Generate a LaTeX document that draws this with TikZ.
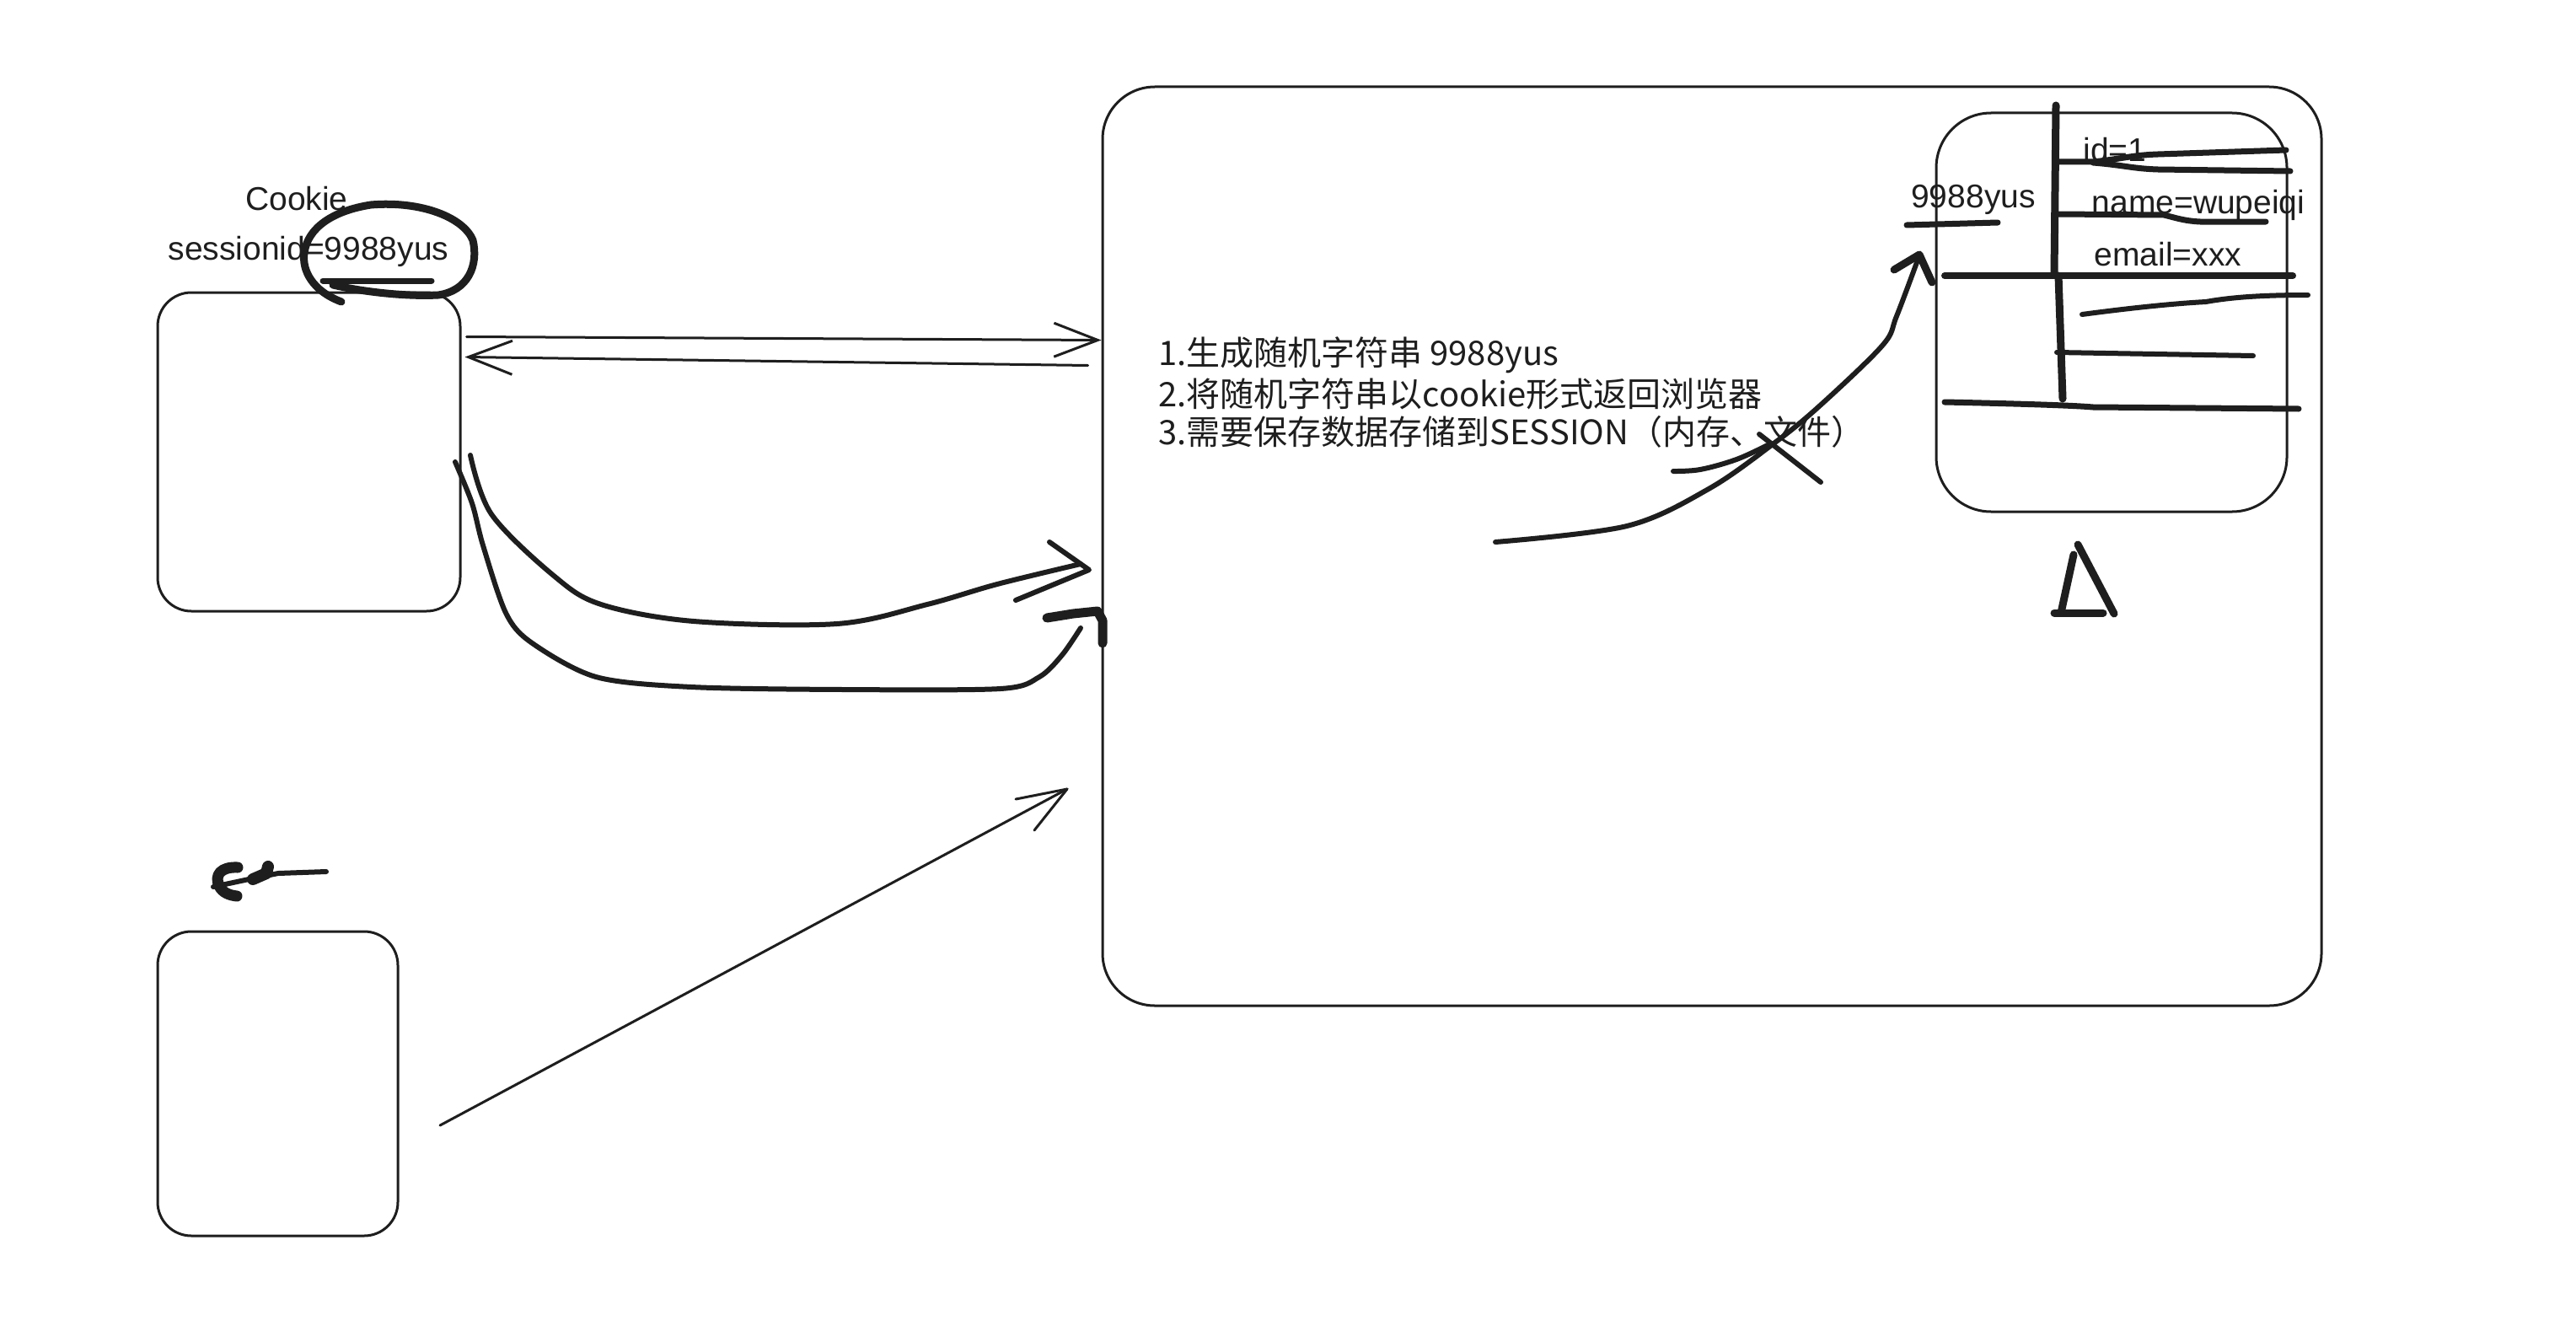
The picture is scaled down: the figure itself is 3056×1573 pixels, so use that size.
\documentclass[tikz,border=0pt]{standalone}
\usepackage{fontspec}
\setmainfont{Liberation Sans}
\newfontfamily\cjk{Noto Sans CJK SC}
\usetikzlibrary{calc,arrows.meta}
\definecolor{ink}{HTML}{1E1E1E}
\begin{document}
\begin{tikzpicture}[x=1pt,y=-1pt,line cap=round,line join=round,draw=ink,text=ink,
  box/.style={draw=ink,line width=3pt,inner sep=0pt},
  lbl/.style={inner sep=0pt,font=\fontsize{39}{47}\selectfont},
  cjktext/.style={inner sep=0pt,anchor=west,font=\cjk\fontsize{40}{47}\selectfont},
  thin/.style={line width=3pt},
  mid/.style={line width=6pt},
  thick/.style={line width=9pt},
  barb/.style={-{Straight Barb[length=52pt,width=40pt]}}]
\fill[white] (0,0) rectangle (3056,1573);
\useasboundingbox (0,0) rectangle (3056,1573);

% boxes
\node[box,rounded corners=40pt,minimum width=359pt,minimum height=378pt] (b1) at (366.5,536) {};
\node[box,rounded corners=40pt,minimum width=285pt,minimum height=361pt] (b2) at (329.5,1285.5) {};
\node[box,rounded corners=62pt,minimum width=1446pt,minimum height=1090pt] (srv) at (2031,648) {};
\node[box,rounded corners=65pt,minimum width=416pt,minimum height=473pt] (store) at (2505,370.5) {};

% cookie labels
\node[lbl] (ck) at (352,236) {Cookie};
\node[lbl] (sid) at (366,298) {sessionid=9988yus};
\draw[thick] (405,358) .. controls (370,345) and (358,320) .. (361,300)
  .. controls (365,270) and (395,250) .. (440,243)
  .. controls (500,238) and (550,258) .. (561,285)
  .. controls (568,315) and (555,345) .. (520,350)
  .. controls (480,352) and (430,346) .. (395,338);
\draw[line width=7pt] (383,333) -- (512,333);

% browser <-> server arrows
\draw[thin,barb] ($(b1.north east)+(6,54)$) -- ($(srv.north west)+(0,302)$);
\draw[thin,barb] ($(srv.north west)+(-16,332)$) -- ($(b1.north east)+(4,78)$);

% curved strokes
\coordinate (c1a) at (558,540);
\coordinate (c1b) at (1282,669);
\draw[mid] plot[smooth,tension=0.55] coordinates {(c1a) (583,610) (657,683) (713,717) (823,737) (993,740) (1100,717) (1183,693) (c1b)};
\draw[mid] (1245,643) -- (1292,676) -- (1205,712);
\coordinate (c2a) at (540,548);
\coordinate (c2b) at (1282,745);
\draw[mid] plot[smooth,tension=0.5] coordinates {(c2a) (560,597) (573,647) (600,727) (630,762) (707,803) (820,815) (1000,818) (1187,817) (1233,803) (1260,777) (c2b)};
\draw[line width=11pt] (1242,733) -- (1273,728) -- (1302,725) -- (1308,736) -- (1308,763);

% diagonal arrow from second browser
\coordinate (d1) at (522,1335);
\coordinate (d2) at (1266,936);
\draw[thin] (d1) -- (d2);
\draw[thin] (1205,948) -- (1266,936) -- (1227,985);

% scribble near second browser
\draw[line width=13pt] (282,1029) .. controls (262,1028) and (254,1038) .. (260,1051) .. controls (264,1059) and (272,1062) .. (281,1063);
\draw[line width=6pt] (253,1052) -- (300,1042) -- (330,1036) -- (387,1034);
\draw[line width=14pt] (300,1043) -- (316,1036) -- (318,1028);

% steps text
\node[cjktext] (s1) at (1374,421) {1.生成随机字符串 9988yus};
\node[cjktext] (s2) at (1374,467) {2.将随机字符串以cookie形式返回浏览器};
\node[cjktext] (s3) at (1374,512) {3.需要保存数据存储到SESSION（内存、文件）};

% long curve to store
\coordinate (l1) at (1774,643);
\coordinate (l2) at (2277,303);
\draw[mid] plot[smooth,tension=0.55] coordinates {(l1) (1930,624) (2027,580) (2103,527) (2157,483) (2233,410) (2250,375) (l2)};
\draw[thick] (2247,320) -- (2277,302) -- (2292,335);
\draw[mid] plot[smooth,tension=0.6] coordinates {(1985,559) (2017,557) (2060,545) (2097,528)};
\draw[mid] (2087,515) -- (2160,572);

% store contents
\node[lbl] (k) at (2341,237) {9988yus};
\draw[line width=7pt] (2262,267) -- (2370,264);
\node[lbl] (f1) at (2509,178) {id=1};
\node[lbl] (f2) at (2608,243) {name=wupeiqi};
\node[lbl] (f3) at (2572,302) {email=xxx};
\draw[thick] (2439,125) -- (2437,323);
\draw[thick] (2442,327) -- (2447,473);
\draw[line width=7pt] (2442,192) -- (2483,192) .. controls (2520,188) and (2530,184) .. (2560,183) -- (2712,178);
\draw[line width=7pt] (2483,193) .. controls (2520,196) and (2530,200) .. (2560,201) -- (2717,203);
\draw[line width=7pt] (2442,254) -- (2567,255) .. controls (2580,258) and (2590,262) .. (2610,263) -- (2688,263);
\draw[line width=8pt] (2307,327) -- (2720,327);
\draw[line width=6pt] (2470,373) .. controls (2530,365) and (2580,360) .. (2617,358) .. controls (2650,352) and (2690,350) .. (2738,350);
\draw[line width=6pt] (2440,418) -- (2673,422);
\draw[line width=7pt] (2307,477) .. controls (2400,479) and (2460,481) .. (2483,483) -- (2727,485);

% triangle below store
\draw[thick] (2460,658) -- (2445,727);
\draw[thick] (2437,727) -- (2495,727);
\draw[thick] (2465,646) -- (2508,728);
\end{tikzpicture}
\end{document}
